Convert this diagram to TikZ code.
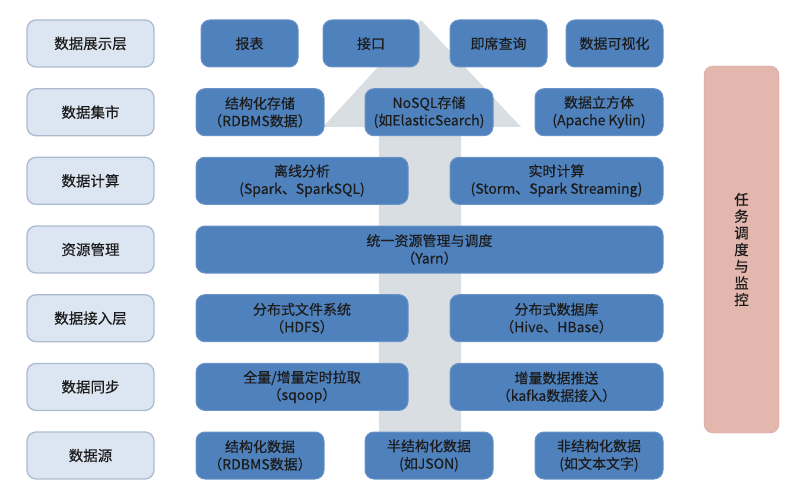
\documentclass[tikz,border=0pt]{standalone}
\usepackage{fontspec}
\setmainfont[FakeBold=0.35]{Noto Sans CJK SC}
\definecolor{layerfill}{HTML}{DCE6F2}
\definecolor{layerdraw}{HTML}{ABBBD0}
\definecolor{bluefill}{HTML}{4F81BD}
\definecolor{bluedraw}{HTML}{6A93C8}
\definecolor{arrowgrey}{HTML}{D9DEE2}
\definecolor{pinkfill}{HTML}{E3B7AE}
\definecolor{txt}{HTML}{1C1C1C}
\begin{document}
\begin{tikzpicture}[x=1pt,y=-1pt,
  layer/.style={draw=layerdraw,fill=layerfill,line width=1.3pt,rounded corners=9pt,
    minimum width=127pt,minimum height=47pt,text=txt,font=\fontsize{14.5}{18}\selectfont,inner sep=0pt},
  comp/.style={draw=bluedraw,fill=bluefill,line width=1pt,rounded corners=9pt,
    minimum height=47pt,text=txt,font=\fontsize{14}{17.5}\selectfont,align=center,inner sep=0pt},
  monitor/.style={fill=pinkfill,draw=pinkfill!90!black,line width=0.4pt,rounded corners=9pt,
    minimum width=75pt,minimum height=367pt,text=txt,font=\fontsize{14.5}{16.7}\selectfont,align=center,inner sep=0pt}]
\useasboundingbox (0,0) rectangle (801,500);
% big grey arrow
\fill[arrowgrey] (421,20) -- (521,127) -- (461,127) -- (461,432) -- (379,432) -- (379,127) -- (323,127) -- cycle;
% left column
\node[layer] (l1) at (90.5,43.5) {数据展示层};
\node[layer] (l2) at (90.5,112.2) {数据集市};
\node[layer] (l3) at (90.5,180.8) {数据计算};
\node[layer] (l4) at (90.5,249.5) {资源管理};
\node[layer] (l5) at (90.5,318.2) {数据接入层};
\node[layer] (l6) at (90.5,386.9) {数据同步};
\node[layer] (l7) at (90.5,455.5) {数据源};
% row 1
\node[comp,minimum width=97pt] (r1a) at (249.5,43.5) {报表};
\node[comp,minimum width=96pt] (r1b) at (371,43.5) {接口};
\node[comp,minimum width=97pt] (r1c) at (498.5,43.5) {即席查询};
\node[comp,minimum width=97pt] (r1d) at (614.5,43.5) {数据可视化};
% row 2
\node[comp,minimum width=128pt] (r2a) at (260,112.2) {结构化存储\\（RDBMS数据）};
\node[comp,minimum width=128pt] (r2b) at (429,112.2) {NoSQL存储\\(如ElasticSearch)};
\node[comp,minimum width=128pt] (r2c) at (599,112.2) {数据立方体\\(Apache Kylin)};
% row 3
\node[comp,minimum width=212pt] (r3a) at (302,180.8) {离线分析\\(Spark、SparkSQL)};
\node[comp,minimum width=213pt] (r3b) at (556.5,180.8) {实时计算\\(Storm、Spark Streaming)};
% row 4
\node[comp,minimum width=467pt] (r4) at (429.5,249.5) {统一资源管理与调度\\（Yarn）};
% row 5
\node[comp,minimum width=212pt] (r5a) at (302,318.2) {分布式文件系统\\（HDFS）};
\node[comp,minimum width=213pt] (r5b) at (556.5,318.2) {分布式数据库\\（Hive、HBase）};
% row 6
\node[comp,minimum width=212pt] (r6a) at (302,386.9) {全量/增量定时拉取\\（sqoop）};
\node[comp,minimum width=213pt] (r6b) at (556.5,386.9) {增量数据推送\\（kafka数据接入）};
% row 7
\node[comp,minimum width=128pt] (r7a) at (260,455.5) {结构化数据\\（RDBMS数据）};
\node[comp,minimum width=128pt] (r7b) at (429,455.5) {半结构化数据\\(如JSON)};
\node[comp,minimum width=128pt] (r7c) at (599,455.5) {非结构化数据\\(如文本文字)};
% monitoring bar
\node[monitor] (mon) at (741.5,249.5) {任\\务\\调\\度\\与\\监\\控};
\end{tikzpicture}
\end{document}
